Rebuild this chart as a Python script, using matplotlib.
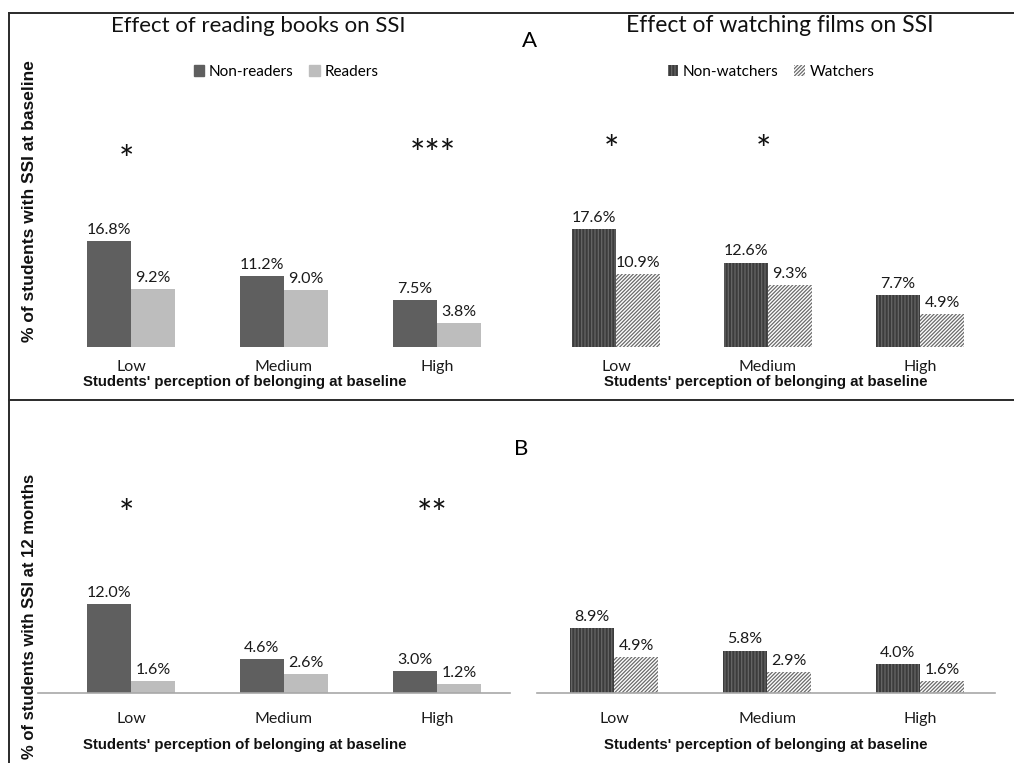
import matplotlib
matplotlib.use("Agg")
import matplotlib.pyplot as plt
from matplotlib.patches import Patch
from matplotlib.lines import Line2D

# ---- data ----
categories = ["Low", "Medium", "High"]

books_base_non = [16.8, 11.2, 7.5]
books_base_read = [9.2, 9.0, 3.8]
films_base_non = [17.6, 12.6, 7.7]
films_base_watch = [10.9, 9.3, 4.9]

books_12m_non = [12.0, 4.6, 3.0]
books_12m_read = [1.6, 2.6, 1.2]
films_12m_non = [8.9, 5.8, 4.0]
films_12m_watch = [4.9, 2.9, 1.6]

sig_books_base = ["*", "", "***"]
sig_films_base = ["*", "*", ""]
sig_books_12m = ["*", "", "**"]
sig_films_12m = ["", "", ""]

xlabel_text = "Students' perception of belonging at baseline"

# ---- styling ----
W, H = 1014, 763
fig = plt.figure(figsize=(W / 100, H / 100), dpi=100)
fig.patch.set_facecolor("white")

SANS = ["Lato", "DejaVu Sans"]
ARIAL = ["Liberation Sans", "DejaVu Sans"]
plt.rcParams["hatch.linewidth"] = 0.9

style_books = [dict(color="#5f5f5f"), dict(color="#bdbdbd")]
style_films = [dict(facecolor="#3c3c3c", edgecolor="#666666", hatch="|||||", linewidth=0),
               dict(facecolor="white", edgecolor="#6a6a6a", hatch="/////////", linewidth=0)]


def px_axes(x0, x1, ybase, ytop):
    return fig.add_axes([x0 / W, 1 - ybase / H, (x1 - x0) / W, (ybase - ytop) / H])


def panel(box, c0, step, k, series, styles, sig, sig_px, show_spine, tick_pad):
    x0, x1, ybase, ytop = box
    ax = px_axes(x0, x1, ybase, ytop)
    ax.set_xlim((x0 - c0) / step, (x1 - c0) / step)
    ax.set_ylim(0, (ybase - ytop) / k)
    bw = 0.29
    xs = list(range(len(categories)))
    for j, (vals, st) in enumerate(zip(series, styles)):
        off = (j - 0.5) * bw
        ax.bar([x + off for x in xs], vals, width=bw, **st)
        for x, v in zip(xs, vals):
            ax.annotate(f"{v:.1f}%", (x + off, v), xytext=(0, 3),
                        textcoords="offset points", ha="center", va="bottom",
                        fontsize=11.5, family=SANS, color="#1a1a1a")
    for x, s, yp in zip(xs, sig, sig_px):
        if s:
            ax.text(x - 0.03, (ybase - yp) / k, s, ha="center", va="center",
                    fontsize=26, family=SANS, color="#111111")
    for sp in ["top", "right", "left"]:
        ax.spines[sp].set_visible(False)
    ax.spines["bottom"].set_visible(show_spine)
    ax.spines["bottom"].set_color("#a8a8a8")
    ax.spines["bottom"].set_linewidth(1.2)
    ax.set_yticks([])
    ax.set_xticks(xs)
    ax.set_xticklabels(categories, fontsize=11.5, family=SANS, color="#1a1a1a")
    ax.tick_params(axis="x", length=0, pad=tick_pad)
    ax.set_xlabel(xlabel_text, fontsize=10.8, family=ARIAL, fontweight="bold",
                  color="#111111")
    ax.patch.set_alpha(0)
    return ax


boxes = {
    "tl": (38, 510, 347, 110),
    "tr": (537, 995, 347, 110),
    "bl": (38, 510, 693, 470),
    "br": (537, 995, 693, 470),
}

# top row (baseline)
ax_tl = panel(boxes["tl"], 131, 153, 6.3, [books_base_non, books_base_read],
              style_books, sig_books_base, [162, 0, 156], False, 9)
ax_tr = panel(boxes["tr"], 616, 152, 6.7, [films_base_non, films_base_watch],
              style_films, sig_films_base, [151, 151, 0], False, 9)

# bottom row (12 months)
ax_bl = panel(boxes["bl"], 131, 153, 7.4, [books_12m_non, books_12m_read],
              style_books, sig_books_12m, [515, 0, 515], True, 14)
ax_br = panel(boxes["br"], 614, 153, 7.3, [films_12m_non, films_12m_watch],
              style_films, sig_films_12m, [0, 0, 0], True, 14)

# x-axis label placement (pixel centres of the labels)
for ax, key, lx, ly in [(ax_tl, "tl", 245, 382), (ax_tr, "tr", 766, 382),
                        (ax_bl, "bl", 245, 745), (ax_br, "br", 766, 745)]:
    x0, x1, yb, yt = boxes[key]
    ax.xaxis.set_label_coords((lx - x0) / (x1 - x0), -(ly - yb) / (yb - yt))
    ax.xaxis.label.set_verticalalignment("center")

# titles and panel letters
fig.text(258 / W, 1 - 26 / H, "Effect of reading books on SSI", ha="center", va="center",
         fontsize=16, family=SANS, color="#111111")
fig.text(780 / W, 1 - 26 / H, "Effect of watching films on SSI", ha="center", va="center",
         fontsize=16.5, family=SANS, color="#111111")
fig.text(530 / W, 1 - 41 / H, "A", ha="center", va="center", fontsize=16, family=SANS)
fig.text(521 / W, 1 - 449 / H, "B", ha="center", va="center", fontsize=16, family=SANS)

# y axis labels
fig.text(30 / W, 1 - 201 / H, "% of students with SSI at baseline", rotation=90,
         ha="center", va="center", fontsize=12.5, family=ARIAL, fontweight="bold", color="#111111")
fig.text(30 / W, 1 - 616 / H, "% of students with SSI at 12 months", rotation=90,
         ha="center", va="center", fontsize=12, family=ARIAL, fontweight="bold", color="#111111")

# legends
leg_kw = dict(loc="center", ncol=2, frameon=False, handlelength=0.7, handleheight=0.7,
              handletextpad=0.3, columnspacing=1.0, prop={"family": SANS, "size": 11})
fig.legend([Patch(**style_books[0]), Patch(**style_books[1])], ["Non-readers", "Readers"],
           bbox_to_anchor=(286 / W, 1 - 72 / H), **leg_kw)
fig.legend([Patch(**style_films[0]), Patch(**style_films[1])], ["Non-watchers", "Watchers"],
           bbox_to_anchor=(771 / W, 1 - 72 / H), **leg_kw)

# panel frame lines
frame = dict(color="#2a2a2a", linewidth=1.4, transform=fig.transFigure)
fig.add_artist(Line2D([9 / W, 9 / W], [0, 1 - 13 / H], **frame))
fig.add_artist(Line2D([9 / W, 1], [1 - 13 / H, 1 - 13 / H], **frame))
fig.add_artist(Line2D([9 / W, 1], [1 - 400 / H, 1 - 400 / H], **frame))

fig.savefig("out.png", dpi=100)
